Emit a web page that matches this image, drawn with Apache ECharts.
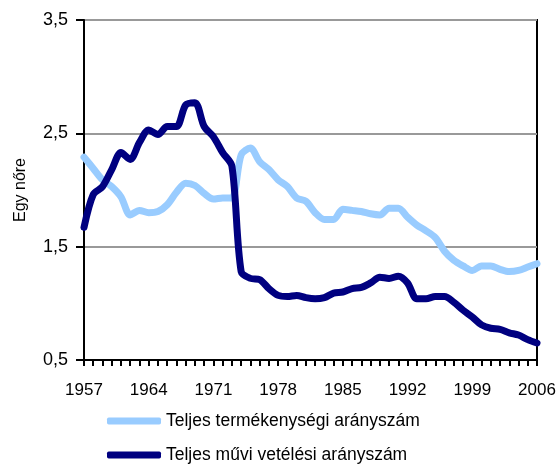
<!DOCTYPE html>
<html>
<head>
<meta charset="utf-8">
<script src="https://cdn.jsdelivr.net/npm/echarts@6/dist/echarts.min.js"></script>
<style>
  html, body { margin: 0; padding: 0; background: #fff; }
  #chart { width: 559px; height: 469px; }
</style>
</head>
<body>
<div id="chart"></div>
<script>
// évek 1957-2006
const years = []
for (let y = 1957; y <= 2006; y++) years.push(String(y))

// Teljes termékenységi arányszám
const termekenyseg = [
  2.29, 2.19, 2.09, 2.03, 1.94, 1.78, 1.82, 1.80, 1.81, 1.87,
  1.98, 2.06, 2.04, 1.97, 1.92, 1.93, 1.93, 2.31, 2.37, 2.25,
  2.18, 2.09, 2.03, 1.93, 1.90, 1.80, 1.74, 1.74, 1.83, 1.82,
  1.81, 1.79, 1.78, 1.84, 1.84, 1.76, 1.69, 1.64, 1.58, 1.46,
  1.38, 1.33, 1.29, 1.33, 1.33, 1.30, 1.28, 1.29, 1.32, 1.35
]

// Teljes művi vetélési arányszám
const vetelesi = [
  1.67, 1.96, 2.03, 2.18, 2.33, 2.27, 2.42, 2.53, 2.49, 2.56,
  2.56, 2.75, 2.77, 2.56, 2.47, 2.33, 2.21, 1.28, 1.22, 1.21,
  1.13, 1.07, 1.06, 1.07, 1.05, 1.04, 1.05, 1.09, 1.10, 1.13,
  1.14, 1.18, 1.23, 1.22, 1.24, 1.18, 1.04, 1.04, 1.06, 1.06,
  1.01, 0.94, 0.88, 0.81, 0.78, 0.77, 0.74, 0.72, 0.68, 0.65
]

const seriesNames = ["Teljes termékenységi arányszám", "Teljes művi vetélési arányszám"]

const myChart = echarts.init(document.getElementById("chart"))
const font = "Liberation Sans, Arial, sans-serif"

// egy-egy jelmagyarázat soronként
function legendRow(name, top) {
  return {
    left: 107,
    top: top,
    padding: 0,
    itemWidth: 54,
    itemHeight: 7,
    icon: "roundRect",
    textStyle: { fontSize: 17.5, color: "#000", fontFamily: font },
    data: [name]
  }
}

const option = {
  animation: false,
  textStyle: { fontFamily: font },
  grid: {
    left: 84,
    right: 22,
    top: 20,
    bottom: 109,
    show: true,
    borderColor: "#000",
    borderWidth: 2
  },
  legend: [legendRow(seriesNames[0], 412), legendRow(seriesNames[1], 446)],
  xAxis: {
    type: "category",
    boundaryGap: false,
    data: years,
    axisLine: { lineStyle: { color: "#000", width: 2 } },
    axisTick: { interval: 0, length: 6, lineStyle: { color: "#000", width: 2 } },
    axisLabel: { interval: 6, color: "#000", fontSize: 17, margin: 12, padding: [10, 0, 0, 0] },
    splitLine: { show: false }
  },
  yAxis: {
    type: "value",
    min: 0.5,
    max: 3.5,
    interval: 1,
    name: "Egy nőre",
    nameLocation: "middle",
    nameRotate: 90,
    nameGap: 55,
    nameTextStyle: { fontSize: 16, color: "#000" },
    axisLine: { show: true, lineStyle: { color: "#000", width: 2 } },
    axisTick: { show: true, length: 8, lineStyle: { color: "#000", width: 2 } },
    axisLabel: {
      color: "#000",
      fontSize: 18,
      margin: 16,
      formatter: function (v) { return v.toFixed(1).replace(".", ",") }
    },
    splitLine: { lineStyle: { color: "#999", width: 2 } }
  },
  series: [
    {
      name: seriesNames[0],
      type: "line",
      data: termekenyseg,
      smooth: 0.3,
      symbol: "none",
      lineStyle: { color: "#99CCFF", width: 7, cap: "round", join: "round" },
      itemStyle: { color: "#99CCFF" }
    },
    {
      name: seriesNames[1],
      type: "line",
      data: vetelesi,
      smooth: 0.3,
      symbol: "none",
      lineStyle: { color: "#000080", width: 7, cap: "round", join: "round" },
      itemStyle: { color: "#000080" }
    }
  ]
}
myChart.setOption(option)
</script>
</body>
</html>
